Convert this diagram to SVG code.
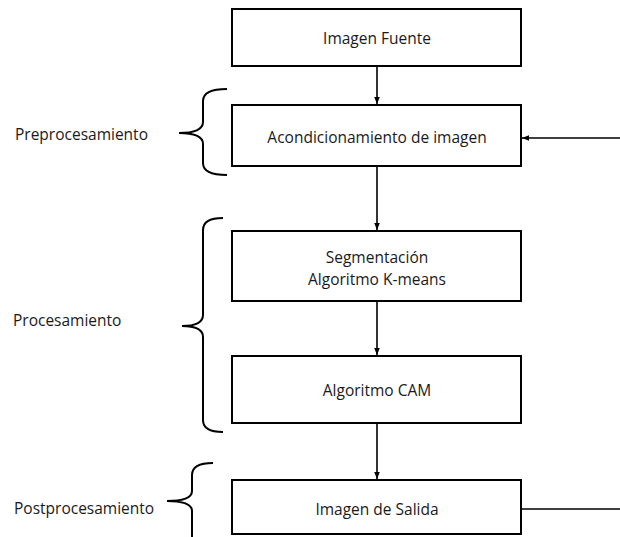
<svg xmlns="http://www.w3.org/2000/svg" width="620" height="537" viewBox="0 0 620 537">
<defs>
<style>
.box{fill:#fff;stroke:#000;stroke-width:2}
.t{font-family:"Open Sans","Liberation Sans",sans-serif;font-size:15.5px;fill:#1a1a1a;text-anchor:middle;dominant-baseline:central}
.l{font-family:"Open Sans","Liberation Sans",sans-serif;font-size:15.5px;fill:#1a1a1a;dominant-baseline:central}
.c{fill:none;stroke:#000;stroke-width:1.6}
.br{fill:none;stroke:#000;stroke-width:2}
</style>
<marker id="ah" viewBox="0 0 10 10" refX="10" refY="5" markerWidth="7" markerHeight="7" markerUnits="userSpaceOnUse" orient="auto">
<path d="M0,1 L10,5 L0,9 Z" fill="#000"/>
</marker>
</defs>
<g id="connectors">
<line class="c" x1="377" y1="66" x2="377" y2="104" marker-end="url(#ah)"/>
<line class="c" x1="377" y1="166" x2="377" y2="230" marker-end="url(#ah)"/>
<line class="c" x1="377" y1="301" x2="377" y2="355" marker-end="url(#ah)"/>
<line class="c" x1="377" y1="423" x2="377" y2="479" marker-end="url(#ah)"/>
<line class="c" x1="620" y1="138" x2="522" y2="138" marker-end="url(#ah)"/>
<line class="c" x1="521" y1="509" x2="620" y2="509"/>
</g>
<g id="node-fuente">
<rect class="box" x="232" y="9" width="289" height="57"/>
<text class="t" x="377" y="38">Imagen Fuente</text>
</g>
<g id="node-acond">
<rect class="box" x="232" y="105" width="289" height="61"/>
<text class="t" x="377" y="137">Acondicionamiento de imagen</text>
</g>
<g id="node-segm">
<rect class="box" x="232" y="231" width="289" height="70"/>
<text class="t" x="377" y="257">Segmentación</text>
<text class="t" x="377" y="279">Algoritmo K-means</text>
</g>
<g id="node-cam">
<rect class="box" x="232" y="356" width="289" height="67"/>
<text class="t" x="377" y="390">Algoritmo CAM</text>
</g>
<g id="node-salida">
<rect class="box" x="232" y="480" width="289" height="54"/>
<text class="t" x="377" y="509">Imagen de Salida</text>
</g>
<g id="group-pre">
<path class="br" d="M227 89 Q203 89 203 101 L203 122 Q203 133 179 133 Q203 133 203 144 L203 163 Q203 175 227 175"/>
<text class="l" x="15" y="134">Preprocesamiento</text>
</g>
<g id="group-proc">
<path class="br" d="M223 218 Q203 218 203 230 L203 315 Q203 326 182 326 Q203 326 203 337 L203 420 Q203 432 223 432"/>
<text class="l" x="13" y="320">Procesamiento</text>
</g>
<g id="group-post">
<path class="br" d="M213 463 Q192 463 192 475 L192 491 Q192 501 167 501 Q192 501 192 511 L192 545"/>
<text class="l" x="14" y="508">Postprocesamiento</text>
</g>
</svg>
